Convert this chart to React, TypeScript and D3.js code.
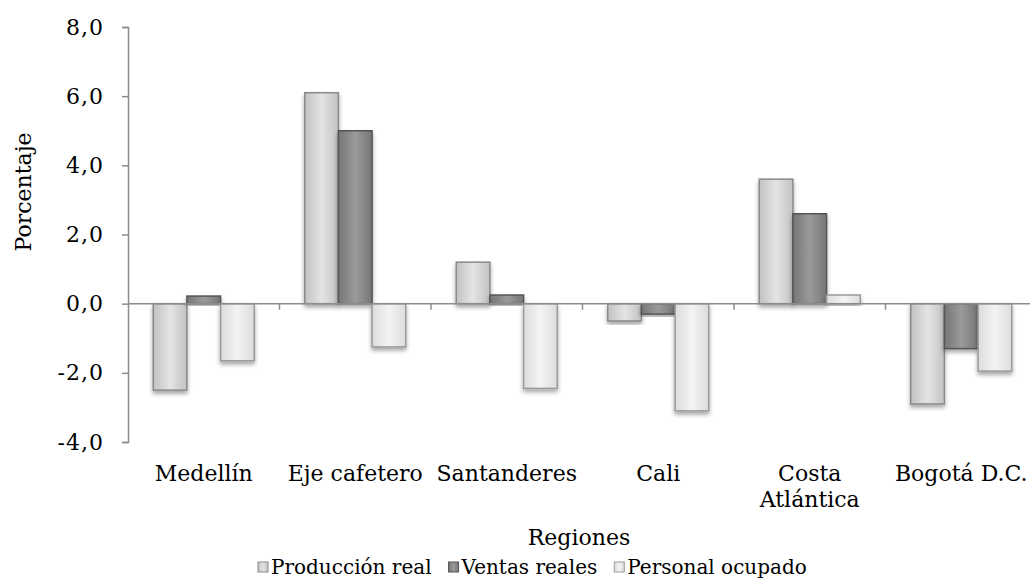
import React, { useEffect, useRef } from "react";
import * as d3 from "d3";

const regions = ["Medellín", "Eje cafetero", "Santanderes", "Cali", "Costa Atlántica", "Bogotá D.C."];
const seriesNames = ["Producción real", "Ventas reales", "Personal ocupado"];
const produccion = [-2.5, 6.1, 1.2, -0.5, 3.6, -2.9];
const ventas = [0.22, 5.0, 0.25, -0.3, 2.6, -1.3];
const personal = [-1.65, -1.25, -2.45, -3.1, 0.25, -1.95];
const yTicks = [-4, -2, 0, 2, 4, 6, 8];

const fills = [
  { light: "#e4e4e4", mid: "#c2c2c2", stroke: "#8a8a8a" },
  { light: "#9a9a9a", mid: "#767676", stroke: "#555555" },
  { light: "#f4f4f4", mid: "#dcdcdc", stroke: "#9a9a9a" },
];

const App: React.FC = () => {
  const ref = useRef<SVGSVGElement>(null);

  useEffect(() => {
    const width = 1030;
    const height = 580;
    const margin = { top: 27, right: -7, bottom: 138, left: 128 };
    const font = "'DejaVu Serif', serif";
    const series = [produccion, ventas, personal];

    const svg = d3.select(ref.current);
    svg.selectAll("*").remove();

    const defs = svg.append("defs");
    fills.forEach((f, i) => {
      const g = defs
        .append("linearGradient")
        .attr("id", `grad${i}`)
        .attr("x1", "0")
        .attr("x2", "1")
        .attr("y1", "0")
        .attr("y2", "0");
      g.append("stop").attr("offset", "0%").attr("stop-color", f.mid);
      g.append("stop").attr("offset", "50%").attr("stop-color", f.light);
      g.append("stop").attr("offset", "100%").attr("stop-color", f.mid);
    });
    const filter = defs
      .append("filter")
      .attr("id", "shadow")
      .attr("x", "-20%")
      .attr("y", "-20%")
      .attr("width", "140%")
      .attr("height", "140%");
    filter
      .append("feDropShadow")
      .attr("dx", 0)
      .attr("dy", 3)
      .attr("stdDeviation", 2)
      .attr("flood-color", "#000")
      .attr("flood-opacity", 0.35);

    const x0 = d3
      .scaleBand()
      .domain(regions)
      .range([margin.left, width - margin.right])
      .paddingInner(0)
      .paddingOuter(0);
    const x1 = d3
      .scaleBand()
      .domain(seriesNames)
      .range([0, x0.bandwidth()])
      .paddingOuter(0.75)
      .paddingInner(0);

    const y = d3
      .scaleLinear()
      .domain([-4, 8])
      .range([height - margin.bottom, margin.top]);

    // Bars
    series.forEach((vals, si) => {
      svg
        .append("g")
        .selectAll("rect")
        .data(vals)
        .join("rect")
        .attr("x", (_, i) => (x0(regions[i]) ?? 0) + (x1(seriesNames[si]) ?? 0))
        .attr("y", (d) => y(Math.max(0, d)))
        .attr("width", x1.bandwidth())
        .attr("height", (d) => Math.abs(y(d) - y(0)))
        .attr("fill", `url(#grad${si})`)
        .attr("stroke", fills[si].stroke)
        .attr("stroke-width", 1.5)
        .attr("filter", "url(#shadow)");
    });

    // Y axis
    const yAxis = svg
      .append("g")
      .attr("transform", `translate(${margin.left},0)`)
      .call(
        d3
          .axisLeft(y)
          .tickValues(yTicks)
          .tickSize(6)
          .tickPadding(18)
          .tickFormat((d) => (d as number).toFixed(1).replace(".", ","))
      );
    yAxis.select(".domain").attr("stroke", "#8c8c8c").attr("stroke-width", 1.5);
    yAxis.selectAll("line").attr("stroke", "#8c8c8c").attr("stroke-width", 1.5);
    yAxis
      .selectAll("text")
      .attr("font-family", font)
      .attr("font-size", 22)
      .attr("letter-spacing", 1)
      .attr("fill", "#000");

    // X axis at zero
    const xAxisG = svg.append("g");
    xAxisG
      .append("line")
      .attr("x1", margin.left)
      .attr("x2", width - margin.right)
      .attr("y1", y(0))
      .attr("y2", y(0))
      .attr("stroke", "#8c8c8c")
      .attr("stroke-width", 1.5);
    xAxisG
      .selectAll("line.tick")
      .data(regions.slice(1))
      .join("line")
      .attr("class", "tick")
      .attr("x1", (d) => x0(d) ?? 0)
      .attr("x2", (d) => x0(d) ?? 0)
      .attr("y1", y(0))
      .attr("y2", y(0) + 6)
      .attr("stroke", "#8c8c8c")
      .attr("stroke-width", 1.5);

    // Category labels
    const labelLines: Record<string, string[]> = {
      "Costa Atlántica": ["Costa", "Atlántica"],
    };
    regions.forEach((r) => {
      const lines = labelLines[r] ?? [r];
      const t = svg
        .append("text")
        .attr("x", (x0(r) ?? 0) + x0.bandwidth() / 2)
        .attr("y", 481)
        .attr("text-anchor", "middle")
        .attr("font-family", font)
        .attr("font-size", 22)
        .attr("fill", "#000");
      lines.forEach((l, i) => {
        t.append("tspan")
          .attr("x", (x0(r) ?? 0) + x0.bandwidth() / 2)
          .attr("dy", i === 0 ? 0 : 26)
          .text(l);
      });
    });

    // Axis titles
    svg
      .append("text")
      .attr("x", 579)
      .attr("y", 545)
      .attr("text-anchor", "middle")
      .attr("font-family", font)
      .attr("font-size", 22)
      .text("Regiones");
    svg
      .append("text")
      .attr("transform", `translate(31,192) rotate(-90)`)
      .attr("text-anchor", "middle")
      .attr("font-family", font)
      .attr("font-size", 22)
      .text("Porcentaje");

    // Legend, laid out item by item
    const legend = svg.append("g");
    let lx = 258;
    seriesNames.forEach((name, i) => {
      legend
        .append("rect")
        .attr("x", lx)
        .attr("y", 562)
        .attr("width", 10)
        .attr("height", 10)
        .attr("fill", `url(#grad${i})`)
        .attr("stroke", fills[i].stroke)
        .attr("stroke-width", 1);
      const txt = legend
        .append("text")
        .attr("x", lx + 13)
        .attr("y", 574)
        .attr("font-family", font)
        .attr("font-size", 20)
        .text(name);
      const w = (txt.node() as SVGTextElement).getComputedTextLength();
      lx += 13 + w + 17;
    });
  }, []);

  return (
    <svg
      ref={ref}
      width={1030}
      height={580}
      style={{ position: "absolute", left: 0, top: 0, background: "#fff" }}
    />
  );
};

export default App;
